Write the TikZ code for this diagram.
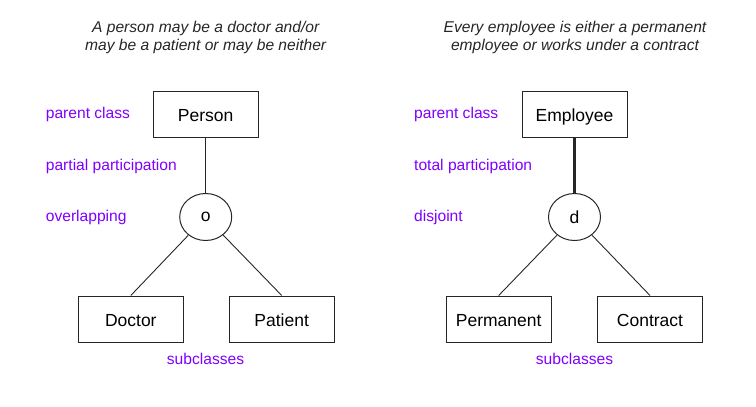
\documentclass[tikz,border=0pt]{standalone}
\usepackage{fontspec}
\setmainfont{Liberation Sans}
\usetikzlibrary{shapes.geometric}
\definecolor{notecol}{RGB}{128,0,255}
\tikzset{
  classbox/.style={draw=black!85, line width=1pt, minimum width=105pt, minimum height=46pt, inner sep=0pt, text height=16pt, text depth=0.6pt, font=\fontsize{17.5}{20}\selectfont},
  spec/.style={draw=black!85, line width=1pt, ellipse, minimum width=52pt, minimum height=47pt, inner sep=0pt, font=\fontsize{17.5}{20}\selectfont},
  note/.style={anchor=west, text=notecol, inner sep=0pt, text height=11pt, text depth=3pt, font=\fontsize{15.6}{18}\selectfont},
  caption/.style={align=center, text=black!85, inner sep=0pt, font=\fontsize{15.6}{18}\selectfont\itshape},
  link/.style={draw=black!85, line width=0.9pt}
}
\begin{document}
\begin{tikzpicture}[x=1pt, y=-1pt]
    \useasboundingbox (0,0) rectangle (756,407);
    % left: overlapping, partial participation
    \node[caption] (capl) at (205.7,37.5) {A person may be a doctor and/or\\may be a patient or may be neither};
    \node[classbox] (person) at (205.7,114) {Person};
    \node[spec] (ov) at (205.7,217) {o};
    \node[classbox] (doctor) at (130.8,319) {Doctor};
    \node[classbox] (patient) at (281.7,319) {Patient};
    \draw[link] (person) -- (ov);
    \draw[link] (ov) -- (doctor.north); \draw[link] (ov) -- (patient.north);
    % right: disjoint, total participation
    \node[caption] (capr) at (575,37.5) {Every employee is either a permanent\\employee or works under a contract};
    \node[classbox] (employee) at (574.5,114) {Employee};
    \node[spec] (dj) at (574.5,217) {d};
    \node[classbox] (permanent) at (498.7,319) {Permanent};
    \node[classbox] (contract) at (650,319) {Contract};
    \draw[link, line width=3.5pt] (employee) -- (dj);
    \draw[link] (dj) -- (permanent.north); \draw[link] (dj) -- (contract.north);
    % ... labels
    \node[note] (pcl) at (45.7,114.5) {parent class};
    \node[note] (ppl) at (45.7,166) {partial participation};
    \node[note] (ovl) at (45.7,217) {overlapping};
    \node[note, anchor=center] (subl) at (205.5,360) {subclasses};
    \node[note] (pcr) at (414,114.5) {parent class};
    \node[note] (tpr) at (414,166) {total participation};
    \node[note] (djr) at (414,217) {disjoint};
    \node[note, anchor=center] (subr) at (574.5,360) {subclasses};
\end{tikzpicture}
\end{document}
